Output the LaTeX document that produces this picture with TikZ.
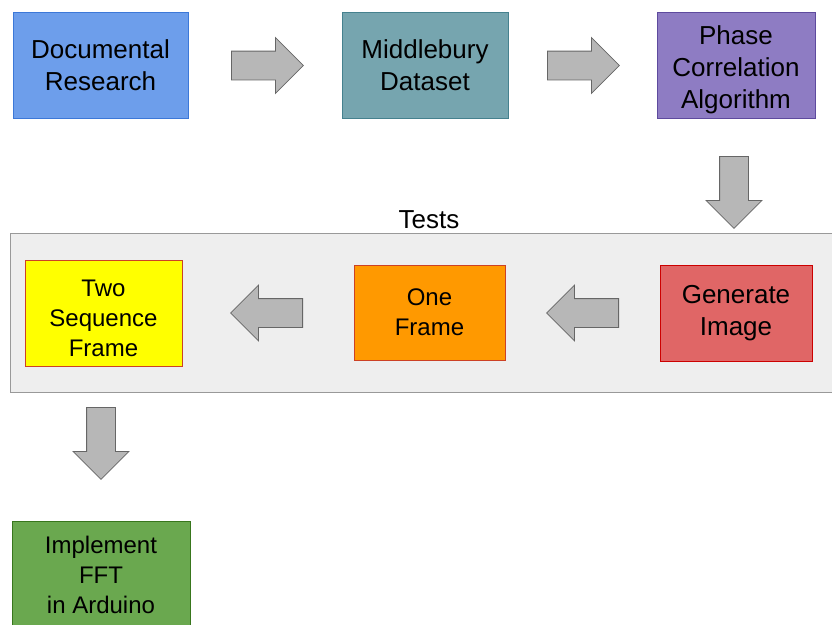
\documentclass[tikz,border=0pt]{standalone}
\usepackage{fontspec}
\setmainfont{Liberation Sans}
\usetikzlibrary{shapes.arrows}
\definecolor{docblue}{HTML}{6D9EEB}
\definecolor{docline}{HTML}{3C78D8}
\definecolor{midteal}{HTML}{76A5AF}
\definecolor{midline}{HTML}{45818E}
\definecolor{phasepurple}{HTML}{8E7CC3}
\definecolor{phaseline}{HTML}{5E4A9E}
\definecolor{genred}{HTML}{E06666}
\definecolor{genline}{HTML}{CC0000}
\definecolor{oneorange}{HTML}{FF9900}
\definecolor{oneline}{HTML}{CC4125}
\definecolor{twoyellow}{HTML}{FFFF00}
\definecolor{implgreen}{HTML}{6AA84F}
\definecolor{implline}{HTML}{38761D}
\definecolor{arrowgray}{HTML}{B7B7B7}
\definecolor{testsgray}{HTML}{EEEEEE}
\tikzset{
  bigtext/.style={font=\fontsize{26}{32}\selectfont},
  smalltext/.style={font=\fontsize{24}{30}\selectfont},
  stagebox/.style={draw, line width=1pt, align=center, inner sep=0pt},
  fatarrow/.style={single arrow, draw=black!60, fill=arrowgray, line width=0.8pt,
    inner sep=0pt, inner ysep=14pt, minimum height=72pt, single arrow head extend=13.5pt,
    anchor=tail}
}
\begin{document}
\begin{tikzpicture}[x=1pt, y=-1pt]
\useasboundingbox (0,0) rectangle (832,624);
% top row
\node[stagebox, bigtext, fill=docblue, draw=docline, minimum width=175pt, minimum height=106pt] (doc) at (100.5,65) {Documental\\Research};
\node[stagebox, bigtext, fill=midteal, draw=midline, minimum width=166pt, minimum height=106pt] (mid) at (425,65) {Middlebury\\Dataset};
\node[stagebox, bigtext, fill=phasepurple, draw=phaseline, minimum width=158pt, minimum height=106pt] (phase) at (736,65) {\rule{0pt}{29pt}Phase\\Correlation\\Algorithm};
\node[fatarrow] (a1) at (231,65.5) {};
\node[fatarrow] (a2) at (547,65.5) {};
\node[fatarrow, rotate=-90] (a3) at (734,156) {};
% tests group
\node[draw=black!40, line width=1.2pt, fill=testsgray, minimum width=840pt, minimum height=159pt, anchor=north west] (tests) at (10,233) {};
\node[bigtext, anchor=south, inner sep=0pt] (testslabel) at (429,229) {Tests};
\node[stagebox, smalltext, fill=twoyellow, draw=oneline, minimum width=157pt, minimum height=106pt] (two) at (103.5,313) {\rule{0pt}{27.5pt}Two\\Sequence\\Frame};
\node[stagebox, smalltext, fill=oneorange, draw=oneline, minimum width=151pt, minimum height=95pt] (one) at (429.5,312.5) {One\\Frame};
\node[stagebox, bigtext, fill=genred, draw=genline, minimum width=152pt, minimum height=96pt] (gen) at (736,313) {Generate\\Image};
\node[fatarrow, rotate=180] (a4) at (303,313) {};
\node[fatarrow, rotate=180] (a5) at (619,313) {};
% last step
\node[fatarrow, rotate=-90] (a6) at (101,407) {};
\node[stagebox, smalltext, fill=implgreen, draw=implline, minimum width=178pt, minimum height=106pt, anchor=north] (impl) at (101,521) {Implement\\FFT\\in Arduino};
\end{tikzpicture}
\end{document}
